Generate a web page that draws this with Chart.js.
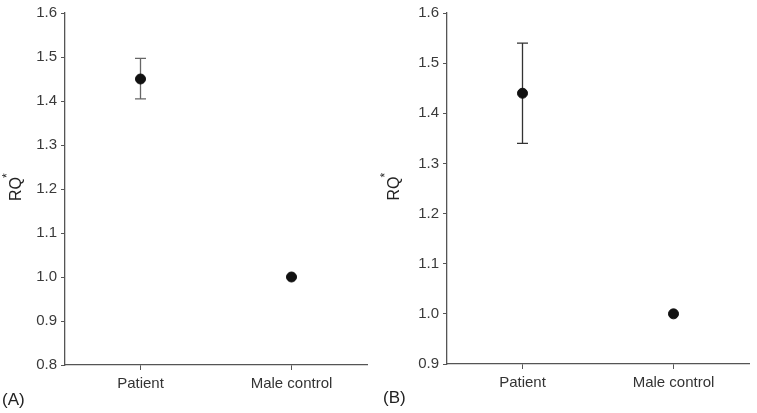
<!DOCTYPE html>
<html lang="en">
<head>
  <meta charset="UTF-8" />
  <title>RQ Patient vs Male control</title>
  <script src="https://cdn.jsdelivr.net/npm/chart.js"></script>
  <style>
    body {
      margin: 0;
      background: #fff;
      font-family: 'Liberation Sans', Arial, sans-serif;
    }
    .panel {
      position: absolute;
      top: 0;
    }
    .tag {
      position: absolute;
      font-size: 17px;
      color: #222;
    }
  </style>
</head>
<body>

<div class="panel" style="left:0"><canvas id="chartA" width="378" height="413"></canvas></div>
<div class="panel" style="left:378px"><canvas id="chartB" width="379" height="413"></canvas></div>
<div class="tag" style="left:2px; top:390px">(A)</div>
<div class="tag" style="left:383px; top:388px">(B)</div>

<script>
  // data
  const categories = ['Patient', 'Male control'];

  const rqA = [1.45, 1.0];
  const errLowA = [1.405, null];
  const errHighA = [1.497, null];

  const rqB = [1.44, 1.0];
  const errLowB = [1.34, null];
  const errHighB = [1.54, null];

  const ticksA = [0.8, 1.6];
  const ticksB = [0.9, 1.6];

  // draws vertical error bars with caps, under the points
  const errorBars = {
    id: 'errorBars',
    beforeDatasetsDraw(chart, args, opts) {
      const ctx = chart.ctx;
      const xs = chart.scales.x, ys = chart.scales.y;
      ctx.save();
      ctx.strokeStyle = opts.color;
      ctx.lineWidth = 1.3;
      opts.low.forEach((lo, i) => {
        const hi = opts.high[i];
        if (lo == null || hi == null) return;
        const x = xs.getPixelForValue(i);
        const y1 = ys.getPixelForValue(lo);
        const y2 = ys.getPixelForValue(hi);
        ctx.beginPath();
        ctx.moveTo(x, y1); ctx.lineTo(x, y2);
        ctx.moveTo(x - 5.5, y1); ctx.lineTo(x + 5.5, y1);
        ctx.moveTo(x - 5.5, y2); ctx.lineTo(x + 5.5, y2);
        ctx.stroke();
      });
      ctx.restore();
    }
  };

  // rotated y title "RQ" with a superscript star
  const yTitle = {
    id: 'yTitle',
    afterDraw(chart) {
      const ctx = chart.ctx;
      const area = chart.chartArea;
      ctx.save();
      ctx.translate(17, (area.top + area.bottom) / 2);
      ctx.rotate(-Math.PI / 2);
      ctx.fillStyle = '#222';
      ctx.textBaseline = 'middle';
      ctx.textAlign = 'center';
      ctx.font = "16px 'Liberation Sans', Arial";
      ctx.fillText('RQ', 0, 0);
      const w = ctx.measureText('RQ').width;
      ctx.font = "12px 'Liberation Sans', Arial";
      ctx.textAlign = 'left';
      ctx.fillText('*', w / 2 - 1, -9);
      ctx.restore();
    }
  };

  function makeChart(id, values, low, high, range, dims, barColor) {
    return new Chart(document.getElementById(id), {
      type: 'line',
      data: {
        labels: categories,
        datasets: [{
          data: values,
          showLine: false,
          pointRadius: 5,
          pointHoverRadius: 5,
          pointBackgroundColor: '#111',
          pointBorderColor: '#111'
        }]
      },
      options: {
        responsive: false,
        animation: false,
        layout: { padding: { top: dims.top, right: dims.right, left: 0, bottom: 0 } },
        plugins: {
          legend: { display: false },
          tooltip: { enabled: false },
          errorBars: { low: low, high: high, color: barColor }
        },
        scales: {
          x: {
            offset: true,
            grid: { offset: false, drawOnChartArea: false, drawTicks: true, tickLength: 5, color: '#555' },
            border: { color: '#555', width: 1.3 },
            ticks: { color: '#333', font: { size: 15, family: "'Liberation Sans', Arial" }, padding: 5 },
            afterFit: s => { s.height = dims.xh; }
          },
          y: {
            min: range[0],
            max: range[1],
            grid: { drawOnChartArea: false, drawTicks: true, tickLength: 4, color: '#555' },
            border: { color: '#555', width: 1.3 },
            ticks: {
              stepSize: 0.1,
              color: '#3a3a3a',
              padding: 4,
              font: { size: 15, family: "'Liberation Sans', Arial" },
              callback: v => Number(v).toFixed(1)
            },
            afterFit: s => { s.width = dims.yw; }
          }
        }
      },
      plugins: [errorBars, yTitle]
    });
  }

  makeChart('chartA', rqA, errLowA, errHighA, ticksA, { top: 4, right: 11, xh: 48, yw: 65 }, '#666');
  makeChart('chartB', rqB, errLowB, errHighB, ticksB, { top: 3, right: 8, xh: 49, yw: 69 }, '#333');
</script>

</body>
</html>
